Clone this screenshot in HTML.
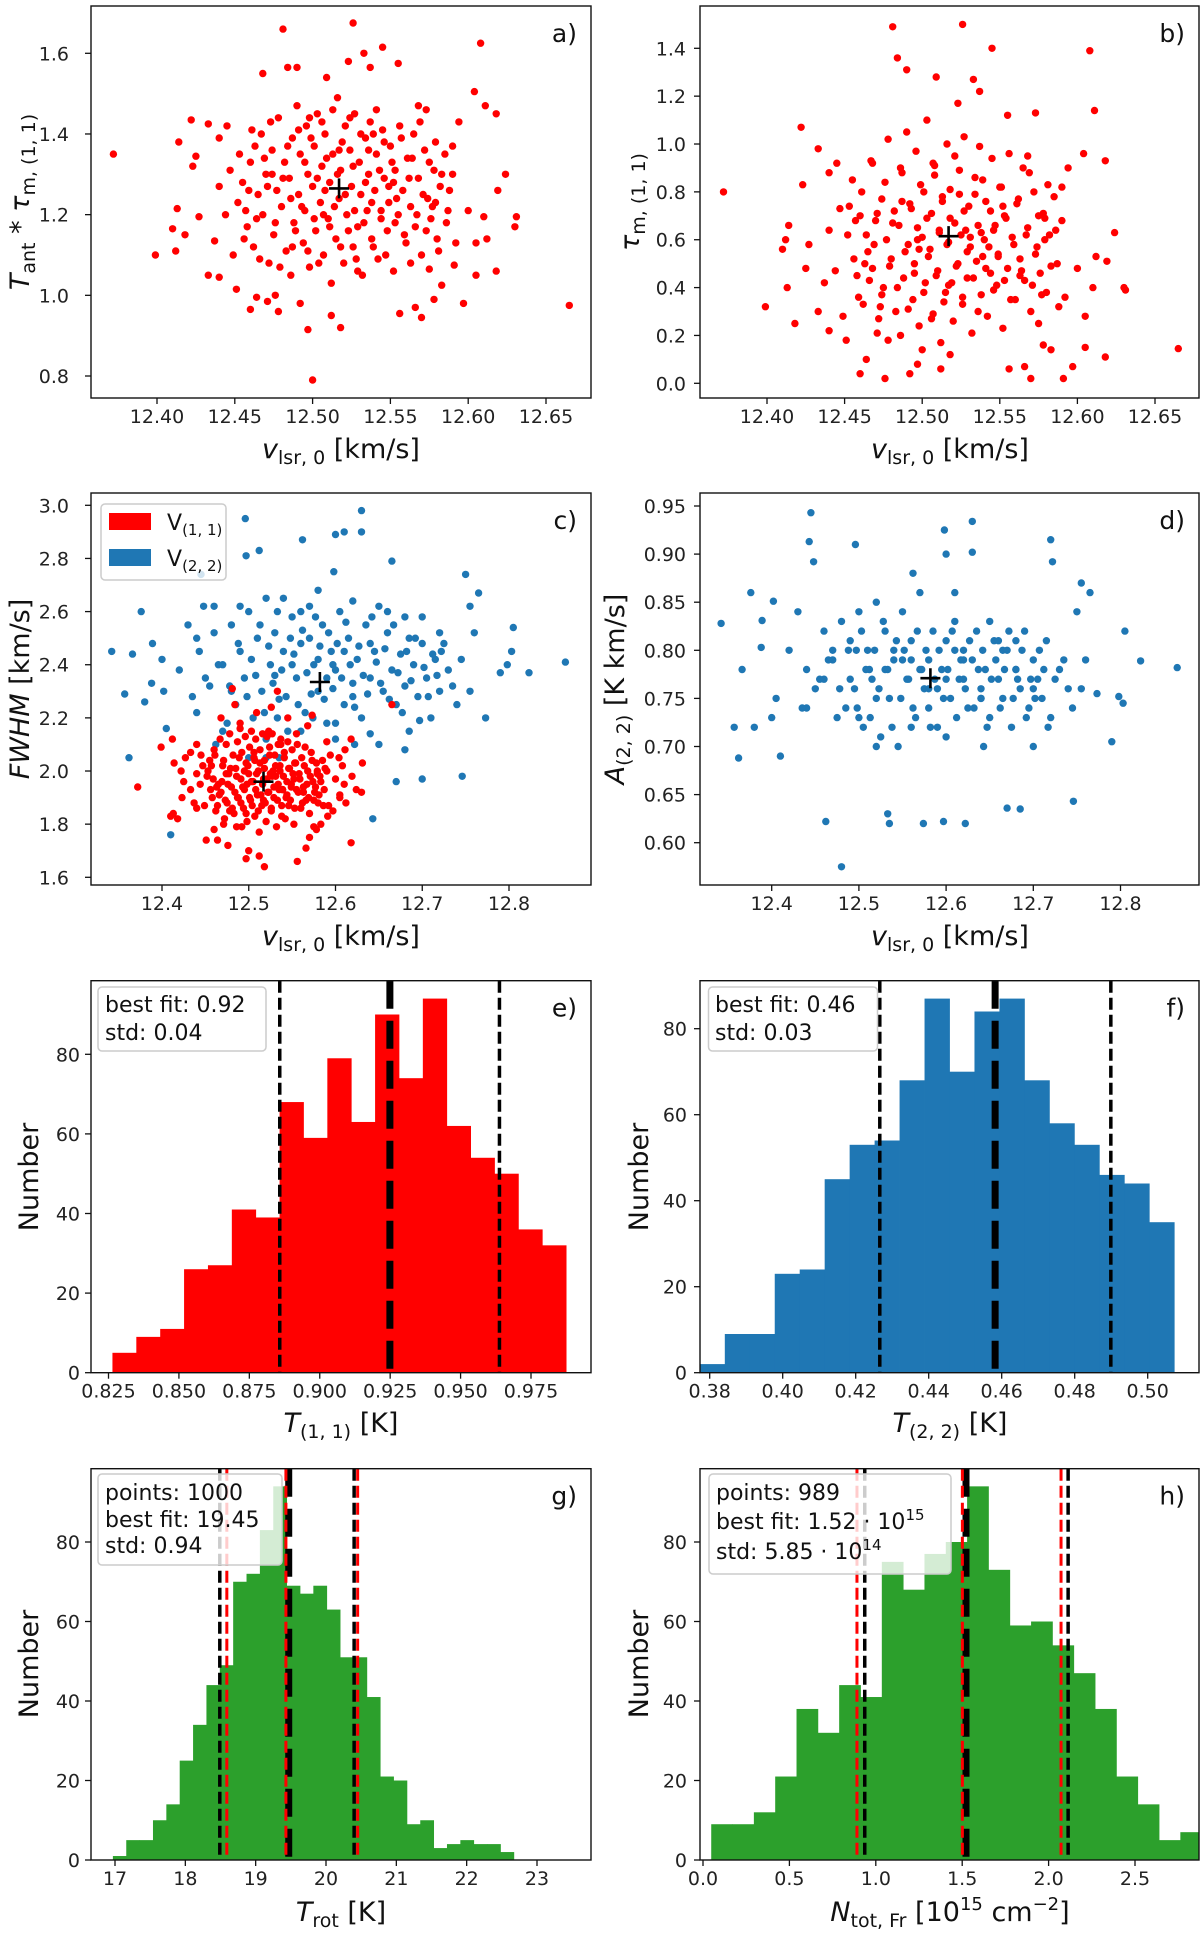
<!DOCTYPE html>
<html><head><meta charset="utf-8"><style>
html,body{margin:0;padding:0;background:#fff}
svg{display:block;font-family:"DejaVu Sans","Liberation Sans",sans-serif}
</style></head><body>
<svg id="fig" width="1200" height="1936" viewBox="0 0 1200 1936" xmlns="http://www.w3.org/2000/svg">
<rect x="0" y="0" width="1200" height="1936" fill="#fff"/>
<g id="layer"></g>
</svg>
<script>
// ---- scatter data: component (1,1) ----
const vlsr11a=[12.372,12.399,12.412,12.413,12.414,12.41,12.418,12.422,12.423,12.427,12.425,12.433,12.433,12.437,12.44,12.44,12.451,12.46,12.468,12.464,12.471,12.476,12.478,12.481,12.484,12.49,12.492,12.497,12.5,12.509,12.512,12.518,12.523,12.526,12.533,12.537,12.545,12.555,12.556,12.566,12.57,12.578,12.583,12.591,12.597,12.604,12.605,12.608,12.611,12.618,12.618,12.619,12.624,12.63,12.631,12.665,12.612,12.61,12.605,12.6,12.594,12.59,12.592,12.573,12.575,12.568,
12.452,12.455,12.458,12.46,12.462,12.465,12.467,12.468,12.47,12.472,12.474,12.475,12.477,12.478,12.48,12.482,12.483,12.485,12.486,12.487,12.488,12.49,12.491,12.492,12.494,12.495,12.496,12.497,12.498,12.5,12.501,12.502,12.503,12.505,12.506,12.507,12.508,12.51,12.511,12.512,12.513,12.515,12.516,12.517,12.518,12.52,12.521,12.522,12.524,12.525,12.526,12.527,12.529,12.53,12.531,12.532,12.534,12.535,12.536,12.537,12.538,12.54,12.541,12.542,12.544,12.545,12.546,12.548,12.549,12.55,12.552,12.553,12.555,12.556,12.558,12.56,12.561,12.563,12.565,12.566,12.568,12.57,12.572,12.574,12.576,12.578,12.58,12.582,12.585,12.587,12.59,12.444,12.447,12.449,12.44,12.445];
const tTau11a=[1.35,1.10,1.11,1.215,1.38,1.165,1.15,1.435,1.32,1.195,1.345,1.05,1.425,1.135,1.39,1.045,1.015,0.965,1.55,0.995,0.985,1.0,0.96,1.66,1.565,1.565,0.98,0.915,0.79,1.54,0.95,0.92,1.58,1.675,1.6,1.565,1.615,1.575,0.955,0.97,0.945,0.99,1.025,1.075,0.98,1.505,1.05,1.625,1.47,1.06,1.45,1.26,1.30,1.17,1.195,0.975,1.14,1.195,1.13,1.21,1.43,1.37,1.13,1.46,1.065,1.47,
1.23,1.28,1.17,1.33,1.12,1.25,1.40,1.20,1.30,1.08,1.36,1.15,1.26,1.44,1.22,1.33,1.11,1.29,1.05,1.39,1.18,1.47,1.25,1.35,1.13,1.21,1.42,1.30,1.07,1.27,1.37,1.16,1.45,1.23,1.32,1.10,1.40,1.19,1.28,1.03,1.35,1.14,1.49,1.24,1.31,1.08,1.42,1.20,1.36,1.27,1.12,1.45,1.17,1.33,1.25,1.05,1.39,1.21,1.30,1.43,1.14,1.26,1.35,1.09,1.19,1.41,1.29,1.16,1.23,1.37,1.06,1.31,1.20,1.42,1.26,1.13,1.34,1.22,1.40,1.17,1.29,1.10,1.36,1.24,1.19,1.31,1.14,1.27,1.35,1.21,1.30,1.20,1.31,1.10,1.27,1.42];
const tau11a=[0.80,0.32,0.60,0.40,0.66,0.56,0.25,1.07,0.83,0.58,0.48,0.30,0.98,0.42,0.88,0.22,0.18,0.04,0.92,0.10,0.21,0.02,0.18,1.49,1.36,1.31,0.04,0.08,0.14,1.28,0.06,0.12,1.17,1.50,1.27,1.22,1.40,1.12,0.06,0.07,0.02,0.16,0.14,0.02,0.07,0.96,0.15,1.39,1.14,0.11,0.93,0.51,0.63,0.40,0.39,0.145,0.53,0.40,0.28,0.48,0.90,0.82,0.36,1.13,0.25,0.95,
0.62,0.85,0.45,0.70,0.33,0.55,0.93,0.48,0.68,0.27,0.77,0.40,0.60,1.02,0.52,0.72,0.30,0.66,0.20,0.88,0.44,1.05,0.58,0.75,0.35,0.50,0.97,0.65,0.24,0.61,0.80,0.42,1.10,0.56,0.71,0.29,0.91,0.47,0.63,0.17,0.78,0.38,1.00,0.59,0.69,0.26,0.95,0.49,0.79,0.62,0.33,1.03,0.44,0.74,0.57,0.21,0.86,0.51,0.66,0.99,0.37,0.60,0.76,0.28,0.46,0.94,0.64,0.41,0.54,0.82,0.23,0.70,0.48,0.96,0.61,0.35,0.75,0.52,0.90,0.43,0.65,0.30,0.80,0.57,0.46,0.71,0.38,0.62,0.78,0.50,0.68,0.47,0.73,0.28,0.64,0.92];
const fwhm11a=[1.94,2.09,2.12,1.84,2.03,1.83,1.82,2.00,1.90,2.05,1.96,1.93,2.07,1.88,2.10,1.86,1.74,1.78,2.20,1.74,1.80,1.72,1.85,2.31,2.25,2.18,1.79,1.67,1.70,2.22,1.68,1.64,2.15,2.24,2.30,2.10,2.20,2.14,1.66,1.71,1.75,1.78,1.80,1.83,1.85,2.05,1.90,2.02,2.08,1.73,2.12,1.98,1.93,1.92,2.03,2.25,1.88,1.95,1.91,1.97,2.06,2.11,1.87,2.21,1.79,2.17,
1.98,2.04,1.90,2.08,1.85,1.95,2.12,1.92,2.02,1.82,2.10,1.88,1.99,2.14,1.94,2.06,1.84,2.01,1.79,2.11,1.90,2.16,1.97,2.07,1.86,1.93,2.13,2.03,1.81,1.99,2.09,1.89,2.15,1.96,2.05,1.83,2.12,1.91,2.00,1.77,2.08,1.87,2.14,1.97,2.04,1.81,2.13,1.92,2.09,1.99,1.85,2.14,1.90,2.06,1.98,1.79,2.10,1.93,2.02,2.12,1.87,1.98,2.07,1.82,1.91,2.11,2.01,1.89,1.95,2.08,1.80,2.03,1.93,2.10,1.99,1.86,2.05,1.94,2.09,1.89,2.00,1.84,2.07,1.96,1.92,2.03,1.88,1.98,2.04,1.93,2.00,1.95,2.02,1.87,1.99,2.06];
// additional (1,1) samples read from the dense cores
const vlsr11b=[12.453,12.456,12.459,12.461,12.464,12.466,12.469,12.471,12.473,12.476,12.479,12.481,12.484,12.486,12.489,12.491,12.493,12.495,12.497,12.499,12.501,12.503,12.504,12.506,12.508,12.509,12.511,12.513,12.514,12.516,12.518,12.519,12.521,12.523,12.524,12.526,12.527,12.529,12.531,12.533,12.534,12.536,12.538,12.539,12.541,12.543,12.544,12.546,12.547,12.549,12.551,12.553,12.554,12.557,12.559,12.562,12.564,12.567,12.569,12.571,12.573,12.575,12.577,12.579,12.581,12.583,12.586,12.588,12.457,12.463,12.474,12.487,12.498,12.507,12.517,12.528,12.539,12.552,12.563,12.579];
const tTau11b=[1.35,1.14,1.26,1.41,1.19,1.09,1.34,1.27,1.43,1.18,1.07,1.29,1.37,1.24,1.16,1.41,1.22,1.33,1.11,1.39,1.19,1.29,1.08,1.43,1.26,1.34,1.17,1.46,1.22,1.30,1.12,1.38,1.25,1.16,1.44,1.32,1.21,1.06,1.40,1.18,1.28,1.36,1.23,1.12,1.46,1.31,1.21,1.38,1.10,1.27,1.33,1.18,1.24,1.39,1.15,1.29,1.34,1.20,1.43,1.25,1.16,1.33,1.22,1.38,1.11,1.30,1.18,1.26,1.21,1.37,1.30,1.12,1.44,1.20,1.36,1.09,1.40,1.28,1.08,1.23];
const tau11b=[0.74,0.52,0.36,0.80,0.62,0.43,0.58,0.71,0.32,0.84,0.49,0.67,0.40,0.90,0.55,0.31,0.73,0.46,0.60,0.83,0.38,0.69,0.53,0.27,0.87,0.45,0.64,0.76,0.34,0.58,0.81,0.42,0.67,0.50,0.89,0.36,0.72,0.55,0.61,0.44,0.79,0.30,0.63,0.85,0.48,0.57,0.72,0.39,0.66,0.53,0.82,0.43,0.69,0.35,0.58,0.77,0.47,0.62,0.88,0.41,0.54,0.70,0.37,0.60,0.83,0.49,0.64,0.32,0.68,0.50,0.37,0.76,0.56,0.92,0.41,0.64,0.53,0.74,0.45,0.69];
const fwhm11b=[2.00,1.93,1.97,2.06,1.87,1.91,1.96,2.04,1.89,1.95,2.01,1.86,1.92,1.98,2.05,1.88,1.94,2.00,1.84,2.02,1.90,1.96,1.87,2.07,1.93,1.99,1.85,2.03,1.91,1.95,2.01,1.88,1.97,1.92,2.06,1.86,1.98,1.94,2.02,1.89,1.95,2.00,1.83,1.93,2.05,1.90,1.96,1.87,2.01,1.94,1.99,1.86,2.03,1.92,1.97,1.88,2.02,1.95,1.90,1.98,2.04,1.89,1.94,2.00,1.91,1.96,1.87,2.01,2.02,1.94,1.99,1.90,1.95,2.04,1.89,2.00,1.93,1.97,1.92,1.99];
const vlsr11=vlsr11a.concat(vlsr11b);
const tTau11=tTau11a.concat(tTau11b);
const tau11=tau11a.concat(tau11b);
const fwhm11=fwhm11a.concat(fwhm11b);
// ---- scatter data: component (2,2) ----
const vlsr22a=[12.342,12.357,12.362,12.366,12.376,12.38,12.388,12.389,12.40,12.402,12.405,12.41,12.445,12.443,12.448,12.462,12.48,12.496,12.497,12.512,12.533,12.535,12.574,12.597,12.622,12.63,12.63,12.72,12.722,12.746,12.755,12.765,12.773,12.79,12.798,12.803,12.805,12.823,12.865,12.598,12.67,12.685,12.562,12.61,12.643,12.665,12.75,12.70,12.60,
12.47,12.48,12.485,12.49,12.495,12.50,12.505,12.51,12.515,12.52,12.525,12.53,12.535,12.54,12.545,12.55,12.555,12.56,12.565,12.57,12.575,12.58,12.585,12.59,12.595,12.60,12.605,12.61,12.615,12.62,12.625,12.63,12.635,12.64,12.645,12.65,12.655,12.66,12.665,12.67,12.675,12.68,12.685,12.69,12.695,12.70,12.705,12.71,12.715,12.72,12.73,12.74,12.455,12.46,12.475,12.55,12.57,12.59,12.61,12.62,12.64,12.58,12.53,12.52,12.6,12.56,12.65,12.68,12.43,12.42,12.44];
const fwhm22a=[2.45,2.29,2.05,2.44,2.60,2.26,2.33,2.48,2.42,2.30,2.16,1.76,2.74,2.45,2.62,2.10,2.30,2.95,2.81,2.83,2.20,2.05,2.20,2.40,2.10,2.98,2.90,2.52,2.45,1.98,2.62,2.67,2.20,2.37,2.40,2.45,2.54,2.37,2.41,2.75,1.96,2.50,2.87,2.90,1.82,2.79,2.74,1.97,2.89,
2.40,2.55,2.25,2.45,2.35,2.60,2.20,2.50,2.30,2.65,2.40,2.52,2.27,2.45,2.15,2.58,2.35,2.48,2.22,2.62,2.40,2.30,2.55,2.18,2.45,2.38,2.60,2.25,2.50,2.33,2.42,2.20,2.55,2.35,2.45,2.10,2.30,2.52,2.38,2.25,2.44,2.32,2.15,2.40,2.28,2.48,2.35,2.20,2.42,2.30,2.38,2.25,2.32,2.52,2.18,2.40,2.50,2.35,2.45,2.28,2.48,2.42,2.36,2.05,2.12,2.60,2.62,2.58,2.55,2.38,2.22];
const amp22a=[0.828,0.72,0.688,0.78,0.86,0.72,0.803,0.831,0.73,0.851,0.75,0.69,0.943,0.913,0.892,0.622,0.575,0.91,0.80,0.78,0.63,0.62,0.62,0.622,0.62,0.934,0.902,0.915,0.892,0.643,0.87,0.86,0.755,0.705,0.752,0.745,0.82,0.789,0.782,0.925,0.636,0.635,0.88,0.86,0.70,0.80,0.84,0.70,0.90,
0.79,0.83,0.74,0.81,0.76,0.84,0.72,0.80,0.77,0.85,0.71,0.82,0.75,0.79,0.70,0.84,0.77,0.81,0.73,0.86,0.76,0.79,0.82,0.72,0.78,0.81,0.75,0.83,0.77,0.80,0.74,0.79,0.82,0.76,0.78,0.73,0.81,0.77,0.75,0.80,0.72,0.78,0.76,0.82,0.74,0.79,0.77,0.75,0.81,0.73,0.78,0.76,0.77,0.82,0.73,0.79,0.78,0.76,0.80,0.77,0.75,0.74,0.78,0.70,0.71,0.72,0.83,0.81,0.84,0.80,0.74];
// additional (2,2) samples
const vlsr22b=[12.478,12.488,12.498,12.503,12.508,12.513,12.518,12.523,12.528,12.533,12.538,12.543,12.548,12.552,12.557,12.562,12.567,12.572,12.577,12.582,12.587,12.592,12.597,12.602,12.607,12.612,12.617,12.622,12.627,12.632,12.637,12.642,12.647,12.652,12.657,12.662,12.667,12.672,12.677,12.682,12.687,12.692,12.697,12.702,12.707,12.712,12.717,12.725,12.735,12.745,12.755,12.76,12.49,12.52,12.54,12.56,12.58,12.60,12.62,12.64,12.66,12.68,12.70,12.465,12.45,12.44,12.435,12.47,12.46,12.5];
const fwhm22b=[2.32,2.48,2.28,2.42,2.36,2.55,2.22,2.47,2.33,2.60,2.38,2.28,2.50,2.44,2.25,2.53,2.37,2.29,2.58,2.47,2.27,2.52,2.31,2.48,2.35,2.56,2.40,2.24,2.47,2.36,2.29,2.58,2.41,2.33,2.46,2.27,2.55,2.37,2.22,2.45,2.34,2.50,2.19,2.39,2.28,2.44,2.36,2.48,2.32,2.42,2.30,2.52,2.62,2.12,2.65,2.15,2.68,2.18,2.64,2.14,2.60,2.08,2.58,2.40,2.35,2.50,2.28,2.15,2.62,2.05];
const amp22b=[0.76,0.80,0.74,0.82,0.78,0.73,0.80,0.76,0.83,0.78,0.72,0.81,0.75,0.80,0.77,0.74,0.82,0.78,0.80,0.72,0.77,0.80,0.75,0.78,0.82,0.73,0.79,0.76,0.81,0.74,0.78,0.80,0.72,0.77,0.79,0.74,0.78,0.82,0.75,0.77,0.80,0.73,0.77,0.75,0.80,0.78,0.72,0.77,0.79,0.74,0.76,0.79,0.77,0.75,0.80,0.79,0.76,0.77,0.79,0.75,0.81,0.78,0.76,0.79,0.76,0.78,0.74,0.80,0.77,0.73];
const vlsr22=vlsr22a.concat(vlsr22b);
const fwhm22=fwhm22a.concat(fwhm22b);
const amp22=amp22a.concat(amp22b);
// best-fit markers
const best11=[12.517,1.265,0.615,1.96];
const best22=[12.582,2.335,0.771];
// ---- histogram data ----
const countsE=[5,9,11,26,27,41,39,68,59,79,63,90,74,94,62,54,50,36,32];
const binE=[0.8264,0.008477];
const linesE=[0.8858,0.9249,0.9638];
const countsF=[2,9,9,23,24,45,53,54,68,87,70,84,87,68,58,53,46,44,35];
const binF=[0.3773,0.00684];
const linesF=[0.4266,0.4582,0.4899];
const countsG=[1,5,5,10,14,25,34,44,49,70,72,83,94,69,67,69,63,51,51,41,21,20,9,10,3,4,5,4,4,2];
const binG=[16.97,0.190];
const linesG=[18.49,19.47,20.40];
const redLinesG=[18.59,19.43,20.45];
const countsH=[9,9,12,21,38,32,44,41,75,68,77,80,94,73,59,60,54,47,38,21,14,5,7,3];
const binH=[0.0476,0.1234];
const linesH=[0.936,1.522,2.113];
const redLinesH=[0.891,1.501,2.072];
// ---- ticks ----
const ticksVa=[12.40,12.45,12.50,12.55,12.60,12.65];
const ticksYa=[0.8,1.0,1.2,1.4,1.6];
const ticksYb=[0.0,0.2,0.4,0.6,0.8,1.0,1.2,1.4];
const ticksVc=[12.4,12.5,12.6,12.7,12.8];
const ticksYc=[1.6,1.8,2.0,2.2,2.4,2.6,2.8,3.0];
const ticksYd=[0.60,0.65,0.70,0.75,0.80,0.85,0.90,0.95];
const ticksXe=[0.825,0.850,0.875,0.900,0.925,0.950,0.975];
const ticksXf=[0.38,0.40,0.42,0.44,0.46,0.48,0.50];
const ticksXg=[17,18,19,20,21,22,23];
const ticksXh=[0.0,0.5,1.0,1.5,2.0,2.5];
const ticksN=[0,20,40,60,80];

const NS='http://www.w3.org/2000/svg';
const layer=document.getElementById('layer');
function el(tag,parent){const e=document.createElementNS(NS,tag);parent.appendChild(e);return e;}
function lin(d0,p0,d1,p1){const k=(p1-p0)/(d1-d0);return v=>p0+(v-d0)*k;}
const RED='#ff0000',BLUE='#1f77b4',GREEN='#2ca02c';

function panel(cfg){
  const g=el('g',layer);
  
  
  const cp=el('clipPath',g);cp.setAttribute('id','clip-'+cfg.id);
  const cr=el('rect',cp);cr.setAttribute('x',cfg.L);cr.setAttribute('y',cfg.T);cr.setAttribute('width',cfg.R-cfg.L);cr.setAttribute('height',cfg.B-cfg.T);
  const plot=el('g',g);plot.setAttribute('clip-path','url(#clip-'+cfg.id+')');
  
  
  cfg.plot=plot;cfg.g=g;
  return cfg;
}
function axesDecor(cfg){
  const g=cfg.g;
  const fr=el('rect',g);
  fr.setAttribute('x',cfg.L);fr.setAttribute('y',cfg.T);fr.setAttribute('width',cfg.R-cfg.L);fr.setAttribute('height',cfg.B-cfg.T);
  fr.setAttribute('fill','none');fr.setAttribute('stroke','#111');fr.setAttribute('stroke-width','1.4');
  
  
  cfg.xt.forEach(v=>{
    const x=cfg.sx(v);
    const t=el('line',g);t.setAttribute('x1',x);t.setAttribute('x2',x);t.setAttribute('y1',cfg.B);t.setAttribute('y2',cfg.B+6);
    t.setAttribute('stroke','#111');t.setAttribute('stroke-width','1.3');
    
    
    const l=el('text',g);l.setAttribute('x',x);l.setAttribute('y',cfg.B+25);l.setAttribute('text-anchor','middle');
    l.setAttribute('font-size','19');l.setAttribute('fill','#222');l.textContent=v.toFixed(cfg.xd);
    
    
  });
  cfg.yt.forEach(v=>{
    const y=cfg.sy(v);
    const t=el('line',g);t.setAttribute('x1',cfg.L-6);t.setAttribute('x2',cfg.L);t.setAttribute('y1',y);t.setAttribute('y2',y);
    t.setAttribute('stroke','#111');t.setAttribute('stroke-width','1.3');
    
    
    const l=el('text',g);l.setAttribute('x',cfg.L-cfg.yo);l.setAttribute('y',y+7);l.setAttribute('text-anchor','end');
    l.setAttribute('font-size','19');l.setAttribute('fill','#222');l.textContent=v.toFixed(cfg.yd);
    
    
  });
  const pl=el('text',g);pl.setAttribute('x',cfg.R-14);pl.setAttribute('y',cfg.T+36);pl.setAttribute('text-anchor','end');
  pl.setAttribute('font-size','25');pl.setAttribute('fill','#111');pl.textContent=cfg.id+')';
  
  
}
function scatter(cfg,xs,ys,color,name){
  const g=el('g',cfg.plot);
  
  
  const n=Math.min(xs.length,ys.length);
  for(let i=0;i<n;i++){
    const c=el('circle',g);c.setAttribute('cx',cfg.sx(xs[i]).toFixed(1));c.setAttribute('cy',cfg.sy(ys[i]).toFixed(1));
    c.setAttribute('r','3.7');c.setAttribute('fill',color);
    
    
  }
}
function cross(cfg,xv,yv){
  const x=cfg.sx(xv),y=cfg.sy(yv);
  const p=el('path',cfg.plot);
  p.setAttribute('d','M'+(x-10)+' '+y+'H'+(x+10)+'M'+x+' '+(y-10)+'V'+(y+10));
  p.setAttribute('stroke','#000');p.setAttribute('stroke-width','2.6');
  
  
}
function hist(cfg,counts,bin,color){
  const g=el('g',cfg.plot);
  
  
  counts.forEach((c,i)=>{
    const x0=cfg.sx(bin[0]+i*bin[1]),x1=cfg.sx(bin[0]+(i+1)*bin[1]);
    const r=el('rect',g);r.setAttribute('x',x0);r.setAttribute('width',x1-x0+0.4);
    r.setAttribute('y',cfg.sy(c));r.setAttribute('height',cfg.sy(0)-cfg.sy(c));r.setAttribute('fill',color);
    
    
  });
}
function vline(cfg,v,color,w,dash,name){
  const x=cfg.sx(v);
  const l=el('line',cfg.plot);l.setAttribute('x1',x);l.setAttribute('x2',x);l.setAttribute('y1',cfg.T);l.setAttribute('y2',cfg.B);
  l.setAttribute('stroke',color);l.setAttribute('stroke-width',w);l.setAttribute('stroke-dasharray',dash);
  
  
}
function statLines(cfg,arr,redArr){
  vline(cfg,arr[0],'#000',3.5,'12 5','lower-std-line');
  vline(cfg,arr[2],'#000',3.5,'12 5','upper-std-line');
  vline(cfg,arr[1],'#000',7,'28 12','best-fit-line');
  if(redArr){
    vline(cfg,redArr[0],RED,3,'12 5','lower-red-line');
    vline(cfg,redArr[1],RED,3,'12 5','center-red-line');
    vline(cfg,redArr[2],RED,3,'12 5','upper-red-line');
  }
}
function legendBox(cfg,x,y,w,h){
  const r=el('rect',cfg.g);r.setAttribute('x',x);r.setAttribute('y',y);r.setAttribute('width',w);r.setAttribute('height',h);
  r.setAttribute('rx','4');r.setAttribute('fill','#fff');r.setAttribute('fill-opacity','0.8');r.setAttribute('stroke','#ccc');r.setAttribute('stroke-width','1.5');
  
  
}

// ---- panels ----
const A=panel({id:'a',L:91,R:591,T:6,B:398,sx:lin(12.40,157,12.65,546),sy:lin(0.8,376,1.6,53.3),xt:ticksVa,xd:2,yt:ticksYa,yd:1,yo:22});
scatter(A,vlsr11,tTau11,RED,'scatter-tant-tau');cross(A,best11[0],best11[1]);axesDecor(A);

const Bp=panel({id:'b',L:700,R:1199,T:6,B:398,sx:lin(12.40,767,12.65,1155),sy:lin(0.0,383.3,1.4,48.3),xt:ticksVa,xd:2,yt:ticksYb,yd:1,yo:14});
scatter(Bp,vlsr11,tau11,RED,'scatter-tau');cross(Bp,best11[0],best11[2]);axesDecor(Bp);

const C=panel({id:'c',L:91,R:591,T:493,B:885,sx:lin(12.4,162,12.8,509),sy:lin(1.6,877.3,3.0,505.3),xt:ticksVc,xd:1,yt:ticksYc,yd:1,yo:22});
scatter(C,vlsr22,fwhm22,BLUE,'scatter-fwhm-22');scatter(C,vlsr11,fwhm11,RED,'scatter-fwhm-11');
cross(C,best11[0],best11[3]);cross(C,best22[0],best22[1]);axesDecor(C);
legendBox(C,101,504,125,76);
(function(){
  const p1=el('rect',C.g);p1.setAttribute('x',109);p1.setAttribute('y',513);p1.setAttribute('width',42);p1.setAttribute('height',17);p1.setAttribute('fill',RED);
  
  
  const p2=el('rect',C.g);p2.setAttribute('x',109);p2.setAttribute('y',549);p2.setAttribute('width',42);p2.setAttribute('height',17);p2.setAttribute('fill',BLUE);
  
  
})();

const D=panel({id:'d',L:700,R:1199,T:493,B:885,sx:lin(12.4,771.7,12.8,1120.5),sy:lin(0.60,842.7,0.95,506),xt:ticksVc,xd:1,yt:ticksYd,yd:2,yo:14});
scatter(D,vlsr22,amp22,BLUE,'scatter-amp-22');cross(D,best22[0],best22[2]);axesDecor(D);

const E=panel({id:'e',L:91,R:591,T:980.7,B:1372.7,sx:lin(0.825,108.5,0.975,531),sy:lin(0,1372.7,80,1054.3),xt:ticksXe,xd:3,yt:ticksN,yd:0,yo:11});
hist(E,countsE,binE,RED);statLines(E,linesE);axesDecor(E);legendBox(E,98,987,168,64);

const F=panel({id:'f',L:700,R:1199,T:980.7,B:1372.7,sx:lin(0.38,709.7,0.50,1147.7),sy:lin(0,1372.7,80,1028.7),xt:ticksXf,xd:2,yt:ticksN,yd:0,yo:13});
hist(F,countsF,binF,BLUE);statLines(F,linesF);axesDecor(F);legendBox(F,708.5,987,169,64);

const G=panel({id:'g',L:91,R:591,T:1468.7,B:1860,sx:lin(17,115,23,537),sy:lin(0,1860,80,1542),xt:ticksXg,xd:0,yt:ticksN,yd:0,yo:11});
hist(G,countsG,binG,GREEN);statLines(G,linesG,redLinesG);axesDecor(G);legendBox(G,98,1474,184,91);

const H=panel({id:'h',L:700,R:1199,T:1468.7,B:1860,sx:lin(0,703,2.5,1135),sy:lin(0,1860,80,1542),xt:ticksXh,xd:1,yt:ticksN,yd:0,yo:13});
hist(H,countsH,binH,GREEN);statLines(H,linesH,redLinesH);axesDecor(H);legendBox(H,709,1474,242,100);
</script>
<script>
// static text overlay (labels, legends)
(function(){
const svg=document.getElementById('fig');
const t=document.createElementNS('http://www.w3.org/2000/svg','g');


t.innerHTML=`
<g font-size="27" fill="#111">
<text x="341" y="458" text-anchor="middle"><tspan font-style="italic">v</tspan><tspan font-size="19" dy="6">lsr, 0</tspan><tspan dy="-6"> [km/s]</tspan></text>
<text x="950" y="458" text-anchor="middle"><tspan font-style="italic">v</tspan><tspan font-size="19" dy="6">lsr, 0</tspan><tspan dy="-6"> [km/s]</tspan></text>
<text x="341" y="945" text-anchor="middle"><tspan font-style="italic">v</tspan><tspan font-size="19" dy="6">lsr, 0</tspan><tspan dy="-6"> [km/s]</tspan></text>
<text x="950" y="945" text-anchor="middle"><tspan font-style="italic">v</tspan><tspan font-size="19" dy="6">lsr, 0</tspan><tspan dy="-6"> [km/s]</tspan></text>
<text x="341" y="1432" text-anchor="middle"><tspan font-style="italic">T</tspan><tspan font-size="19" dy="6">(1, 1)</tspan><tspan dy="-6"> [K]</tspan></text>
<text x="950" y="1432" text-anchor="middle"><tspan font-style="italic">T</tspan><tspan font-size="19" dy="6">(2, 2)</tspan><tspan dy="-6"> [K]</tspan></text>
<text x="341" y="1921" text-anchor="middle"><tspan font-style="italic">T</tspan><tspan font-size="19" dy="6">rot</tspan><tspan dy="-6"> [K]</tspan></text>
<text x="950" y="1921" text-anchor="middle"><tspan font-style="italic">N</tspan><tspan font-size="19" dy="6">tot, Fr</tspan><tspan dy="-6"> [10</tspan><tspan font-size="18" dy="-11">15</tspan><tspan dy="11"> cm</tspan><tspan font-size="18" dy="-11">−2</tspan><tspan dy="11">]</tspan></text>

<text transform="translate(29,202) rotate(-90)" text-anchor="middle"><tspan font-style="italic">T</tspan><tspan font-size="19" dy="6">ant</tspan><tspan dy="-6"> * </tspan><tspan font-style="italic">τ</tspan><tspan font-size="19" dy="6">m, (1, 1)</tspan></text>
<text transform="translate(639,202) rotate(-90)" text-anchor="middle"><tspan font-style="italic">τ</tspan><tspan font-size="19" dy="6">m, (1, 1)</tspan></text>
<text transform="translate(29,689) rotate(-90)" text-anchor="middle"><tspan font-style="italic">FWHM</tspan> [km/s]</text>
<text transform="translate(624,689) rotate(-90)" text-anchor="middle"><tspan font-style="italic">A</tspan><tspan font-size="19" dy="6">(2, 2)</tspan><tspan dy="-6"> [K km/s]</tspan></text>
<text transform="translate(38,1177) rotate(-90)" text-anchor="middle">Number</text>
<text transform="translate(648,1177) rotate(-90)" text-anchor="middle">Number</text>
<text transform="translate(38,1664) rotate(-90)" text-anchor="middle">Number</text>
<text transform="translate(648,1664) rotate(-90)" text-anchor="middle">Number</text>
</g>
<g font-size="22" fill="#111">
<text x="167" y="530">V<tspan font-size="15" dy="5">(1, 1)</tspan></text>
<text x="167" y="566">V<tspan font-size="15" dy="5">(2, 2)</tspan></text>
<text x="105" y="1012">best fit: 0.92</text>
<text x="105" y="1040">std: 0.04</text>
<text x="715" y="1012">best fit: 0.46</text>
<text x="715" y="1040">std: 0.03</text>
<text x="105" y="1500">points: 1000</text>
<text x="105" y="1527">best fit: 19.45</text>
<text x="105" y="1553">std: 0.94</text>
<text x="716" y="1500">points: 989</text>
<text x="716" y="1529">best fit: 1.52 · 10<tspan font-size="15" dy="-9">15</tspan></text>
<text x="716" y="1559">std: 5.85 · 10<tspan font-size="15" dy="-9">14</tspan></text>
</g>`;
svg.appendChild(t);
})();
</script>
</body></html>
